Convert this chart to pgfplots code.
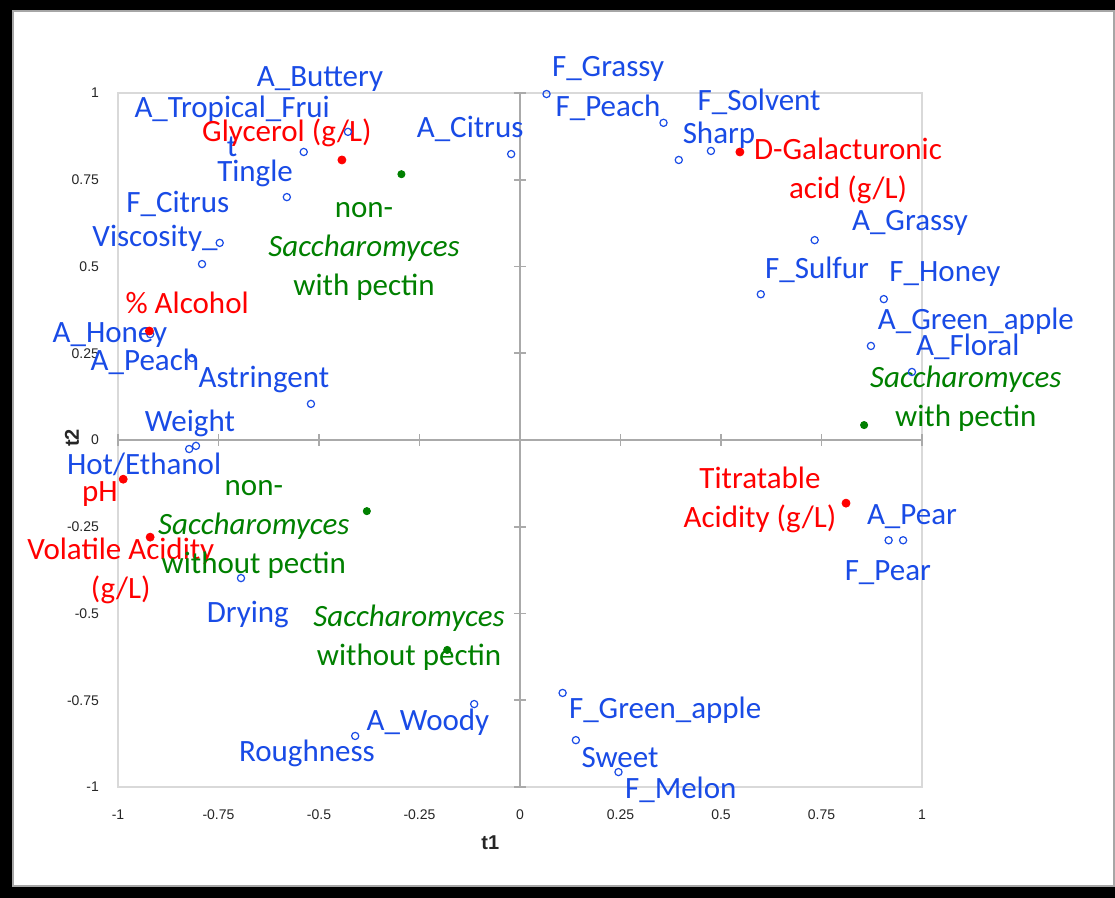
\documentclass[border=0pt]{standalone}
\usepackage{pgfplots}
\pgfplotsset{compat=1.18}
\usepackage{fontspec}
\setmainfont{Carlito}
\newfontfamily\arial{Liberation Sans}
\definecolor{lblue}{RGB}{25,75,230}
\definecolor{lred}{RGB}{255,0,0}
\definecolor{lgreen}{RGB}{0,128,0}
\definecolor{boxgray}{RGB}{217,217,217}
\definecolor{axgray}{RGB}{170,170,170}
\newcommand\lbl{\fontsize{15.5}{19.5}\selectfont}

\begin{document}
\begin{tikzpicture}[x=1pt,y=1pt]
\useasboundingbox (0,0) rectangle (557.5,449);
\fill[black] (0,0) rectangle (557.5,449);
\fill[white] (6,5.5) rectangle (557.5,444);
\draw[gray!70, line width=1pt] (6.5,6) rectangle (557,443.5);

\begin{axis}[at={(59pt,55.5pt)}, anchor=south west, scale only axis,
  width=402pt, height=347pt, xmin=-1, xmax=1, ymin=-1, ymax=1,
  axis line style={boxgray, line width=0.8pt},
  xtick={-1,-0.75,-0.5,-0.25,0,0.25,0.5,0.75,1},
  ytick={-1,-0.75,-0.5,-0.25,0,0.25,0.5,0.75,1},
  xticklabels={-1,-0.75,-0.5,-0.25,0,0.25,0.5,0.75,1},
  yticklabels={-1,-0.75,-0.5,-0.25,0,0.25,0.5,0.75,1},
  major tick length=0pt, tick style={draw=none},
  ticklabel style={font=\arial\fontsize{7}{8}\selectfont, text=black!85},
  xticklabel style={yshift=-8pt}, yticklabel style={xshift=-6pt}]
\end{axis}

\begin{axis}[at={(59pt,55.5pt)}, anchor=south west, scale only axis,
  width=402pt, height=347pt, xmin=-1, xmax=1, ymin=-1, ymax=1,
  axis lines=middle, axis line style={axgray, line width=1pt, -},
  xtick={-1,-0.75,-0.5,-0.25,0,0.25,0.5,0.75,1},
  ytick={-1,-0.75,-0.5,-0.25,0,0.25,0.5,0.75,1},
  xticklabels={}, yticklabels={},
  tick align=center, major tick length=6pt,
  tick style={axgray, line width=0.8pt}, clip=false]

\addplot[only marks, mark=o, mark size=1.8pt, draw=lblue, mark options={line width=0.6pt}] coordinates {
(-0.538,0.830) (-0.428,0.888) (-0.022,0.824) (-0.580,0.700) (-0.747,0.568)
(-0.791,0.507) (-0.920,0.305) (-0.816,0.236) (-0.520,0.104) (-0.823,-0.026)
(-0.806,-0.017) (-0.694,-0.398) (-0.410,-0.853) (-0.114,-0.761) (0.066,0.997)
(0.357,0.914) (0.395,0.807) (0.475,0.833) (0.733,0.576) (0.599,0.420)
(0.905,0.406) (0.873,0.271) (0.975,0.196) (0.917,-0.289) (0.953,-0.289)
(0.106,-0.729) (0.139,-0.865) (0.245,-0.957)
};
\addplot[only marks, mark=*, mark size=2pt, lred] coordinates {
(-0.443,0.807) (-0.922,0.314) (-0.987,-0.113) (-0.920,-0.280) (0.547,0.830) (0.811,-0.182)
};
\addplot[only marks, mark=*, mark size=1.8pt, lgreen] coordinates {
(-0.295,0.766) (-0.381,-0.205) (-0.181,-0.605) (0.856,0.043)
};

% blue labels
\begin{scope}[every node/.style={font=\lbl, text=lblue, inner sep=0pt, align=center}]
\node at (axis cs:-0.4975,1.040) {A\_Buttery};
\node at (axis cs:-0.716,0.905) {A\_Tropical\_Frui\\t};
\node at (axis cs:-0.124,0.896) {A\_Citrus};
\node at (axis cs:-0.659,0.769) {Tingle};
\node at (axis cs:-0.851,0.680) {F\_Citrus};
\node at (axis cs:-0.908,0.582) {Viscosity\_};
\node at (axis cs:-1.020,0.303) {A\_Honey};
\node at (axis cs:-0.933,0.225) {A\_Peach};
\node at (axis cs:-0.637,0.173) {Astringent};
\node at (axis cs:-0.821,0.049) {Weight};
\node at (axis cs:-0.935,-0.069) {Hot/Ethanol};
\node at (axis cs:-0.677,-0.504) {Drying};
\node at (axis cs:-0.530,-0.902) {Roughness};
\node at (axis cs:-0.229,-0.813) {A\_Woody};
\node at (axis cs:0.219,1.069) {F\_Grassy};
\node at (axis cs:0.219,0.957) {F\_Peach};
\node at (axis cs:0.595,0.974) {F\_Solvent};
\node at (axis cs:0.495,0.879) {Sharp};
\node at (axis cs:0.970,0.625) {A\_Grassy};
\node at (axis cs:0.739,0.490) {F\_Sulfur};
\node at (axis cs:1.057,0.478) {F\_Honey};
\node at (axis cs:1.134,0.343) {A\_Green\_apple};
\node at (axis cs:1.114,0.268) {A\_Floral};
\node at (axis cs:0.975,-0.222) {A\_Pear};
\node at (axis cs:0.915,-0.383) {F\_Pear};
\node at (axis cs:0.361,-0.778) {F\_Green\_apple};
\node at (axis cs:0.249,-0.916) {Sweet};
\node at (axis cs:0.400,-1.009) {F\_Melon};
\end{scope}

% red labels
\begin{scope}[every node/.style={font=\lbl, text=lred, inner sep=0pt, align=center}]
\node at (axis cs:-0.580,0.885) {Glycerol (g/L)};
\node at (axis cs:0.816,0.775) {D-Galacturonic\\acid (g/L)};
\node at (axis cs:-0.828,0.395) {\% Alcohol};
\node at (axis cs:-1.045,-0.156) {pH};
\node at (axis cs:-0.993,-0.378) {Volatile Acidity\\(g/L)};
\node at (axis cs:0.597,-0.173) {Titratable\\Acidity (g/L)};
\end{scope}

% green labels
\begin{scope}[every node/.style={font=\lbl, text=lgreen, inner sep=0pt, align=center}]
\node at (axis cs:-0.388,0.542) {non-\\\textit{Saccharomyces}\\with pectin};
\node at (axis cs:-0.662,-0.259) {non-\\\textit{Saccharomyces}\\without pectin};
\node at (axis cs:-0.276,-0.571) {\textit{Saccharomyces}\\without pectin};
\node at (axis cs:1.109,0.118) {\textit{Saccharomyces}\\with pectin};
\end{scope}

\node[font=\arial\bfseries\fontsize{10}{12}\selectfont, text=black!85] at (rel axis cs:0.463,-0.0807) {t1};
\node[font=\arial\bfseries\fontsize{10}{12}\selectfont, text=black!85, rotate=90] at (rel axis cs:-0.0572,0.503) {t2};
\end{axis}
\end{tikzpicture}
\end{document}
